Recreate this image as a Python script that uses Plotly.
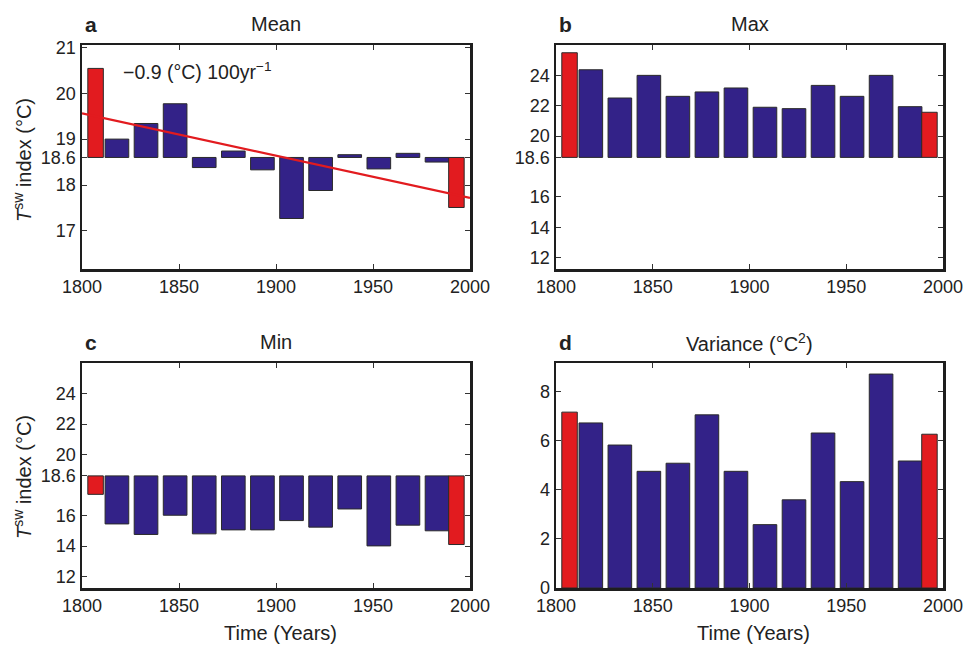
import plotly.graph_objects as go

# ---------------- data ----------------
BLUE_YEARS = [1818, 1833, 1848, 1863, 1878, 1893, 1908, 1923, 1938, 1953, 1968, 1983]
RED_YEARS = [1807, 1993]
BASE_TEMP = 18.6

MEAN_BLUE = [19.00, 19.34, 19.77, 18.38, 18.74, 18.33, 17.27, 17.88, 18.66, 18.35, 18.69, 18.50]
MEAN_RED = [20.54, 17.51]
TREND_YEARS = [1800, 2000]
TREND_VALUES = [19.56, 17.72]

MAX_BLUE = [24.37, 22.51, 24.00, 22.62, 22.91, 23.17, 21.90, 21.81, 23.34, 22.62, 24.00, 21.94]
MAX_RED = [25.49, 21.57]

MIN_BLUE = [15.45, 14.76, 16.02, 14.80, 15.06, 15.06, 15.67, 15.24, 16.43, 14.01, 15.37, 15.00]
MIN_RED = [17.39, 14.10]

VAR_BLUE = [6.72, 5.82, 4.75, 5.08, 7.05, 4.75, 2.58, 3.59, 6.31, 4.33, 8.71, 5.17]
VAR_RED = [7.16, 6.26]

X_TICKS = [1800, 1850, 1900, 1950, 2000]
MEAN_TICKS = [17, 18, 18.6, 19, 20, 21]
MINMAX_TICKS = [12, 14, 16, 18.6, 20, 22, 24]
VAR_TICKS = [0, 2, 4, 6, 8]

PANEL_TITLES = ["Mean", "Max", "Min", "Variance (°C<sup>2</sup>)"]
PANEL_LETTERS = ["a", "b", "c", "d"]
Y_TITLE = "<i>T</i><sup>sw</sup> index (°C)"
X_TITLE = "Time (Years)"
TREND_LABEL = "\u22120.9 (°C) 100yr<sup>\u22121</sup>"

# ---------------- style ----------------
W, H = 963, 645
BLUE = "#332288"
RED = "#E21B1F"
EDGE = "#2a2a2a"
FONT = "Liberation Sans, Arial, Helvetica, sans-serif"
TXT = "#222222"

def px_x(p):
    return p / W

def px_y(p):
    return 1 - p / H

# panel plot-area pixel boxes (left, right, top, bottom)
BOX = {
    1: (82, 470, 45, 269),
    2: (556, 943, 45, 269),
    3: (82, 470, 363, 588),
    4: (556, 943, 363, 588),
}

fig = go.Figure()

def add_bars(idx, blue_vals, red_vals, base):
    xa = "x" if idx == 1 else f"x{idx}"
    ya = "y" if idx == 1 else f"y{idx}"
    fig.add_trace(go.Bar(
        x=BLUE_YEARS, y=[v - base for v in blue_vals], base=base, width=12.2,
        marker=dict(color=BLUE, line=dict(color=EDGE, width=1)),
        xaxis=xa, yaxis=ya, showlegend=False, hoverinfo="skip"))
    fig.add_trace(go.Bar(
        x=RED_YEARS, y=[v - base for v in red_vals], base=base, width=8,
        marker=dict(color=RED, line=dict(color=EDGE, width=1)),
        xaxis=xa, yaxis=ya, showlegend=False, hoverinfo="skip"))

add_bars(1, MEAN_BLUE, MEAN_RED, BASE_TEMP)
fig.add_trace(go.Scatter(x=TREND_YEARS, y=TREND_VALUES, mode="lines",
                         line=dict(color=RED, width=2.2), xaxis="x", yaxis="y",
                         showlegend=False, hoverinfo="skip", cliponaxis=True))
add_bars(2, MAX_BLUE, MAX_RED, BASE_TEMP)
add_bars(3, MIN_BLUE, MIN_RED, BASE_TEMP)
add_bars(4, VAR_BLUE, VAR_RED, 0)

common_axis = dict(
    showline=True, mirror="ticks", linecolor="#1e1e1e", linewidth=2.5,
    ticks="inside", ticklen=5, tickwidth=1, tickcolor="#333333",
    showgrid=False, zeroline=False, automargin=False,
    ticklabeloverflow="allow",
    tickfont=dict(family=FONT, size=18, color=TXT),
)

y_specs = {
    1: (MEAN_TICKS, [16.17, 21.05]),
    2: (MINMAX_TICKS, [11.25, 26.0]),
    3: (MINMAX_TICKS, [11.25, 26.0]),
    4: (VAR_TICKS, [0, 9.16]),
}

layout = dict(
    width=W, height=H, margin=dict(l=0, r=0, t=0, b=0, autoexpand=False),
    paper_bgcolor="white", plot_bgcolor="white", bargap=0,
    barmode="overlay", showlegend=False, template="none",
)

for i in range(1, 5):
    l, r, t, b = BOX[i]
    xk = "xaxis" if i == 1 else f"xaxis{i}"
    yk = "yaxis" if i == 1 else f"yaxis{i}"
    ya = "y" if i == 1 else f"y{i}"
    xa = "x" if i == 1 else f"x{i}"
    tv, rng = y_specs[i]
    layout[xk] = dict(common_axis, domain=[px_x(l), px_x(r)], range=[1800, 2000],
                      tickvals=X_TICKS, ticktext=[str(v) for v in X_TICKS],
                      anchor=ya)
    layout[yk] = dict(common_axis, domain=[px_y(b), px_y(t)], range=rng,
                      tickvals=tv, ticktext=[("%g" % v) for v in tv],
                      anchor=xa)

fig.update_layout(**layout)

ann = []
for i in range(1, 5):
    l, r, t, b = BOX[i]
    ty = 24 if i <= 2 else 342
    ann.append(dict(x=px_x((l + r) / 2), y=px_y(ty), xref="paper", yref="paper",
                    text=PANEL_TITLES[i - 1], showarrow=False,
                    font=dict(family=FONT, size=20, color=TXT),
                    xanchor="center", yanchor="middle"))
    ann.append(dict(x=px_x(l + 1), y=px_y(ty), xref="paper", yref="paper",
                    text="<b>" + PANEL_LETTERS[i - 1] + "</b>", showarrow=False,
                    font=dict(family=FONT, size=21, color=TXT),
                    xanchor="left", yanchor="middle"))

for cy in (160, 477):
    ann.append(dict(x=px_x(22), y=px_y(cy), xref="paper", yref="paper",
                    text=Y_TITLE, showarrow=False, textangle=-90,
                    font=dict(family=FONT, size=20, color=TXT),
                    xanchor="center", yanchor="middle"))

for cx in (280, 753):
    ann.append(dict(x=px_x(cx), y=px_y(633), xref="paper", yref="paper",
                    text=X_TITLE, showarrow=False,
                    font=dict(family=FONT, size=20, color=TXT),
                    xanchor="center", yanchor="middle"))

ann.append(dict(x=px_x(121), y=px_y(71), xref="paper", yref="paper",
                text=TREND_LABEL, showarrow=False,
                font=dict(family=FONT, size=19.5, color=TXT),
                xanchor="left", yanchor="middle"))

fig.update_layout(annotations=ann)

fig.write_html(
    "out.html",
    config={"displayModeBar": False, "staticPlot": True},
    post_script="document.body.style.margin='0';document.body.style.overflow='hidden';",
)
